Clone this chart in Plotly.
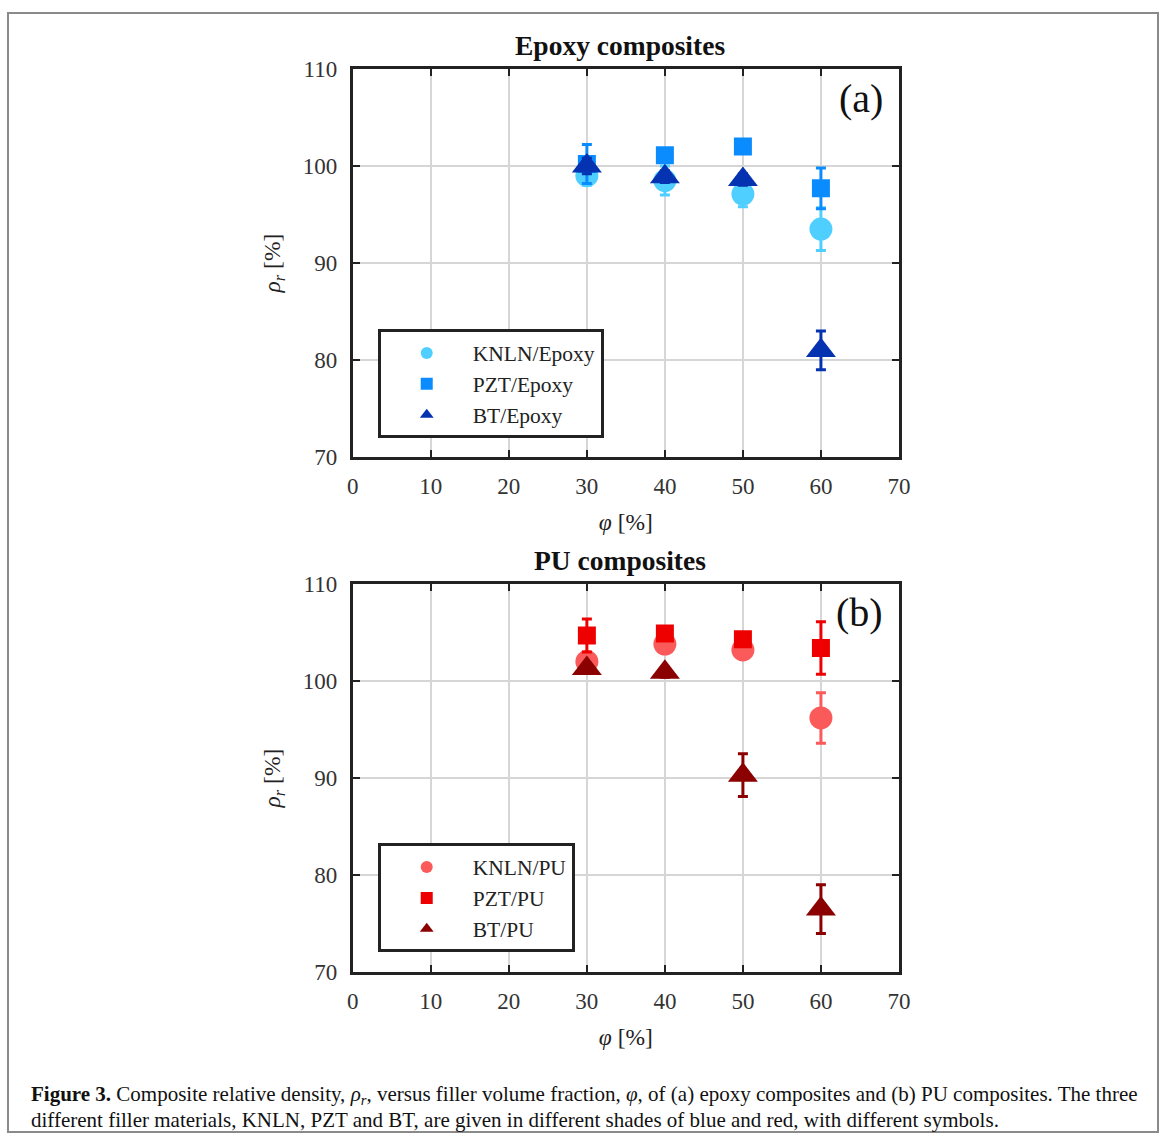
import plotly.graph_objects as go

phi = [30, 40, 50, 60]

# Epoxy composites
knln_epoxy = [99.0, 98.5, 97.1, 93.5]
knln_epoxy_err = [1.0, 1.5, 1.3, 2.2]
pzt_epoxy = [100.2, 101.1, 102.0, 97.7]
pzt_epoxy_err = [2.0, 0.6, 0.6, 2.1]
bt_epoxy = [100.0, 98.9, 98.6, 81.0]
bt_epoxy_err = [0.8, 0.6, 0.6, 2.0]

# PU composites
knln_pu = [102.0, 103.8, 103.2, 96.2]
knln_pu_err = [0.6, 0.6, 0.6, 2.6]
pzt_pu = [104.7, 104.9, 104.3, 103.4]
pzt_pu_err = [1.7, 0.5, 0.6, 2.7]
bt_pu = [101.3, 100.9, 90.3, 76.5]
bt_pu_err = [0.5, 0.5, 2.2, 2.5]

x_ticks = [0, 10, 20, 30, 40, 50, 60, 70]
y_ticks = [70, 80, 90, 100, 110]

FONT = "Liberation Serif"
W, H = 1171, 1146

# The photographed page shows up slightly inset/scaled; map target pixel
# positions to figure paper fractions to compensate.
SX, OX = 0.988, 5.0
SY, OY = 0.980, 11.0

def FX(px):
    return min(max((px - OX) / SX / W, 0.0), 1.0)

def FY(py):
    return min(max(1 - (py - OY) / SY / H, 0.0), 1.0)

fig = go.Figure()

def add(y, err, name, color, symbol, size, xa, ya, legend):
    fig.add_trace(go.Scatter(
        x=phi, y=y, mode="markers", name=name,
        marker=dict(color=color, symbol=symbol, size=size, line=dict(width=0)),
        error_y=dict(type="data", array=err, visible=True, color=color,
                     thickness=3, width=5),
        xaxis=xa, yaxis=ya, legend=legend,
    ))

add(knln_epoxy, knln_epoxy_err, "KNLN/Epoxy", "#4fcfff", "circle", 23, "x", "y", "legend")
add(pzt_epoxy, pzt_epoxy_err, "PZT/Epoxy", "#0a8cff", "square", 18, "x", "y", "legend")
add(bt_epoxy, bt_epoxy_err, "BT/Epoxy", "#0532b0", "triangle-up", 26, "x", "y", "legend")

add(knln_pu, knln_pu_err, "KNLN/PU", "#fa5a5a", "circle", 23, "x2", "y2", "legend2")
add(pzt_pu, pzt_pu_err, "PZT/PU", "#ee0000", "square", 18, "x2", "y2", "legend2")
add(bt_pu, bt_pu_err, "BT/PU", "#8b0000", "triangle-up", 26, "x2", "y2", "legend2")

xdom = [FX(353), FX(901)]
ya_dom = [FY(457), FY(68)]
yb_dom = [FY(973), FY(584)]

axis_common = dict(
    showline=True, linecolor="#222", linewidth=3, mirror="ticks",
    ticks="inside", ticklen=7, tickwidth=2, tickcolor="#222",
    showgrid=True, gridcolor="#d6d6d6", gridwidth=2, zeroline=False,
    tickfont=dict(family=FONT, size=23, color="#333"),
)

xtitle = dict(text="<i>φ</i> [%]", font=dict(family=FONT, size=23.5, color="#222"), standoff=16)
ytitle = dict(text="<i>ρ</i><sub><i>r</i></sub> [%]", font=dict(family=FONT, size=23.5, color="#222"), standoff=16)

legend_common = dict(xanchor="left", yanchor="top",
                     bordercolor="#222", borderwidth=3, bgcolor="white",
                     font=dict(family=FONT, size=21.5, color="#222"),
                     itemsizing="constant", itemwidth=82)

def ann(text, x, y, size, **kw):
    d = dict(text=text, x=FX(x), y=FY(y), xref="paper", yref="paper",
             showarrow=False, xanchor="center", yanchor="middle",
             font=dict(family=FONT, size=size, color="#111"))
    d.update(kw)
    return d

caption_1 = ("<b>Figure 3.</b> Composite relative density, <i>ρ<sub>r</sub></i>, versus filler volume fraction, <i>φ</i>, "
             "of (a) epoxy composites and (b) PU composites. The three")
caption_2 = "different filler materials, KNLN, PZT and BT, are given in different shades of blue and red, with different symbols."
caption = ('<span style="font-size:21px">' + caption_1 + '</span><br>'
           '<span style="font-size:21px">' + caption_2 + '</span>')

fig.update_layout(
    width=W, height=H,
    margin=dict(l=0, r=0, t=0, b=0),
    paper_bgcolor="white", plot_bgcolor="white",
    showlegend=True,
    xaxis=dict(domain=xdom, range=[0, 70], tickvals=x_ticks, anchor="y",
               title=xtitle, ticklabelstandoff=6, **axis_common),
    yaxis=dict(domain=ya_dom, range=[70, 110], tickvals=y_ticks, anchor="x",
               title=ytitle, ticklabelstandoff=8, **axis_common),
    xaxis2=dict(domain=xdom, range=[0, 70], tickvals=x_ticks, anchor="y2",
                title=xtitle, ticklabelstandoff=6, **axis_common),
    yaxis2=dict(domain=yb_dom, range=[70, 110], tickvals=y_ticks, anchor="x2",
                title=ytitle, ticklabelstandoff=8, **axis_common),
    legend=dict(x=FX(378), y=FY(329), **legend_common),
    legend2=dict(x=FX(378), y=FY(844), **legend_common),
    annotations=[
        ann("<b>Epoxy composites</b>", 621, 45, 27.5),
        ann("<b>PU composites</b>", 621, 561, 27.5),
        ann("(a)", 863, 98, 40),
        ann("(b)", 861, 613, 40),
        ann(caption, 28, 1108, 20, xanchor="left", align="left"),
    ],
    shapes=[
        dict(type="rect", xref="paper", yref="paper",
             x0=FX(6) + 1 / W, x1=FX(1165) - 1 / W, y0=FY(1140) + 1 / H, y1=FY(7) - 1 / H,
             line=dict(color="#8a8a8a", width=2)),
    ],
)

fig.write_html(
    "out.html",
    config={"displayModeBar": False},
    post_script=("document.documentElement.style.margin='0';document.documentElement.style.padding='0';"
                 "document.body.style.margin='0';document.body.style.padding='0';"
                 "document.body.style.overflow='hidden';"),
)
